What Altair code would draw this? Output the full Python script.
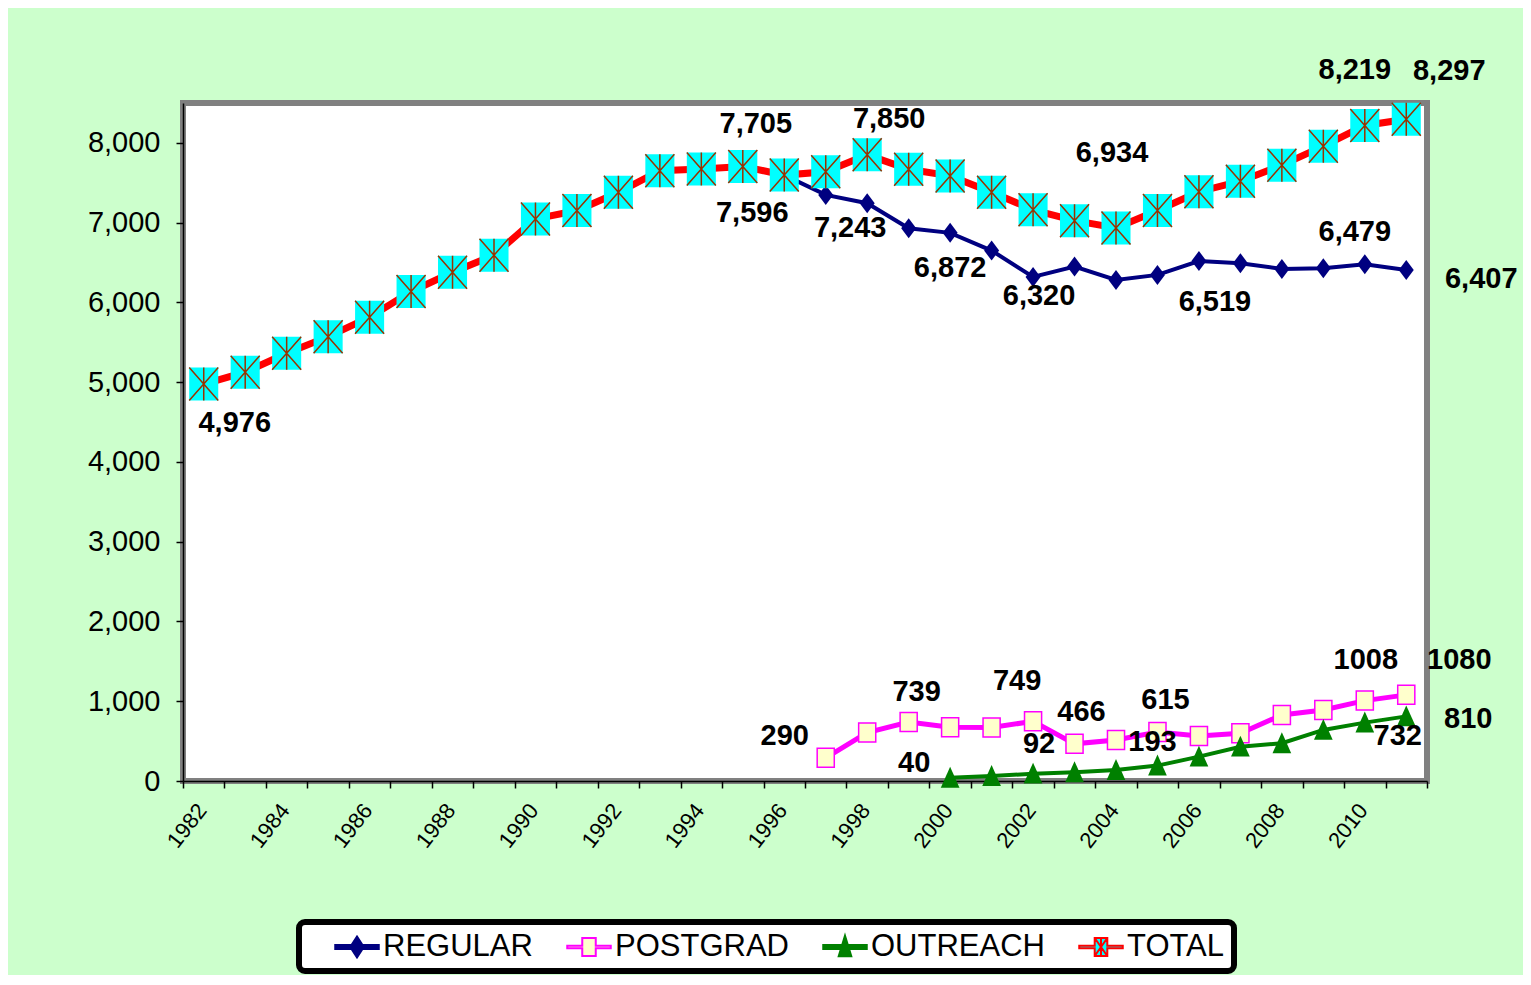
import altair as alt
import pandas as pd

# ---------------- data ----------------
series_names = ["REGULAR", "POSTGRAD", "OUTREACH", "TOTAL"]
years = list(range(1982, 2012))
total = [4976, 5125, 5363, 5571, 5814, 6136, 6378, 6592, 7047, 7152,
         7380, 7652, 7674, 7705, 7596, 7638, 7850, 7669, 7586, 7382,
         7161, 7025, 6934, 7153, 7388, 7520, 7721, 7959, 8219, 8297]
regular_years = list(range(1996, 2012))
regular = [7596, 7348, 7243, 6930, 6872, 6650, 6320, 6449, 6282, 6345,
           6519, 6492, 6420, 6429, 6479, 6407]
postgrad_years = list(range(1997, 2012))
postgrad = [290, 607, 739, 674, 670, 749, 466, 514, 615, 564,
            598, 828, 890, 1008, 1080]
outreach_years = list(range(2000, 2012))
outreach = [40, 62, 92, 110, 138, 193, 305, 430, 473, 640, 732, 810]
y_ticks = [0, 1000, 2000, 3000, 4000, 5000, 6000, 7000, 8000]

rows = []
for s, ys, vs in [("REGULAR", regular_years, regular),
                  ("POSTGRAD", postgrad_years, postgrad),
                  ("OUTREACH", outreach_years, outreach),
                  ("TOTAL", years, total)]:
    for yr, v in zip(ys, vs):
        lab = f"{v:,}" if s in ("TOTAL", "REGULAR") else str(v)
        rows.append({"year": yr, "series": s, "value": v, "label": lab})
df = pd.DataFrame(rows)

# ---------------- styles ----------------
FONT = "Liberation Sans"

# which points carry a data label, and the label's pixel offset
label_offsets = {
    ("TOTAL", 1982): (31, 39),
    ("TOTAL", 1995): (13, -42),
    ("TOTAL", 1996): (-32, 38),
    ("TOTAL", 1998): (22, -36),
    ("REGULAR", 1998): (-17, 25),
    ("REGULAR", 2000): (0, 35),
    ("REGULAR", 2002): (6, 19),
    ("TOTAL", 2004): (-4, -75),
    ("REGULAR", 2006): (16, 41),
    ("REGULAR", 2010): (-10, -32),
    ("TOTAL", 2010): (-10, -55),
    ("TOTAL", 2011): (43, -48),
    ("REGULAR", 2011): (75, 9),
    ("POSTGRAD", 1997): (-41, -22),
    ("POSTGRAD", 1999): (8, -30),
    ("POSTGRAD", 2002): (-16, -40),
    ("POSTGRAD", 2003): (7, -32),
    ("POSTGRAD", 2005): (8, -32),
    ("POSTGRAD", 2010): (1, -41),
    ("POSTGRAD", 2011): (53, -35),
    ("OUTREACH", 2000): (-36, -15),
    ("OUTREACH", 2002): (6, -30),
    ("OUTREACH", 2005): (-5, -24),
    ("OUTREACH", 2010): (33, 13),
    ("OUTREACH", 2011): (62, 3),
}

X = alt.X(
    "year:O",
    scale=alt.Scale(type="band", domain=years, paddingInner=0, paddingOuter=0),
    axis=alt.Axis(
        title=None, tickBand="extent",
        labelExpr="datum.value % 2 == 0 ? datum.label : ''",
        labelAngle=-52, labelAlign="right", labelBaseline="middle",
        labelOffset=-2, labelPadding=18, labelFont=FONT, labelFontSize=22,
        labelColor="black", labelOverlap=False,
        tickSize=7, tickColor="black", tickWidth=1.5,
        domainColor="black", domainWidth=1.5, grid=False,
    ),
)
Y = alt.Y(
    "value:Q",
    scale=alt.Scale(domain=[0, 8500], nice=False, zero=True),
    axis=alt.Axis(
        title=None, values=y_ticks, format=",d", labelFont=FONT,
        labelFontSize=29, labelColor="black", labelPadding=16,
        tickSize=7, tickColor="black", tickWidth=1.5,
        domainColor="black", domainWidth=1.5, grid=False,
    ),
)

base = alt.Chart(df)


def sel(s):
    return base.transform_filter(alt.datum.series == s)


layers = []

# REGULAR
layers.append(sel("REGULAR").mark_line(color="#000080", strokeWidth=4).encode(x=X, y=Y))
layers.append(sel("REGULAR").mark_point(
    shape="M0,-1L0.75,0L0,1L-0.75,0Z", filled=True, color="#000080",
    size=400, opacity=1).encode(x=X, y=Y))

# POSTGRAD
layers.append(sel("POSTGRAD").mark_line(color="#FF00FF", strokeWidth=5).encode(x=X, y=Y))
layers.append(sel("POSTGRAD").mark_point(
    shape="M-0.9,-1H0.9V1H-0.9Z", filled=True, fill="#FFFFCC",
    stroke="#FF00FF", strokeWidth=1.5, size=361, opacity=1).encode(x=X, y=Y))

# OUTREACH
layers.append(sel("OUTREACH").mark_line(color="#008000", strokeWidth=4).encode(x=X, y=Y))
layers.append(sel("OUTREACH").mark_point(
    shape="M0,-1L0.85,0.9L-0.85,0.9Z", filled=True, color="#008000",
    size=484, opacity=1).encode(x=X, y=Y))

# TOTAL
layers.append(sel("TOTAL").mark_line(color="#FF0000", strokeWidth=7).encode(x=X, y=Y))
layers.append(sel("TOTAL").mark_point(
    shape="M-0.88,-1H0.88V1H-0.88Z", filled=True, color="#00FFFF",
    size=1089, opacity=1).encode(x=X, y=Y))
layers.append(sel("TOTAL").mark_point(
    shape="M-0.88,-1L0.88,1M0.88,-1L-0.88,1M0,-1V1", filled=False,
    color="#993300", strokeWidth=1.5, size=1089, opacity=1).encode(x=X, y=Y))

# data labels
for (s, yr), (dx, dy) in label_offsets.items():
    layers.append(
        base.transform_filter(f"datum.series == '{s}' && datum.year == {yr}")
        .mark_text(dx=dx, dy=dy, font=FONT, fontSize=29, fontWeight="bold",
                   color="black", align="center", baseline="middle")
        .encode(x=X, y=Y, text="label:N")
    )

# legend (symbols = line segment + marker)
legend_shapes = [
    "M-1.45,-0.13H1.45V0.13H-1.45Z M0,-0.7L0.45,0L0,0.7L-0.45,0Z",
    "M-1.45,-0.08H-0.45V-0.6H0.45V-0.08H1.45V0.08H0.45V0.6H-0.45V0.08H-1.45Z",
    "M-1.45,-0.13H1.45V0.13H-1.45Z M0,-0.75L0.42,0.62H-0.42Z",
    "M-1.45,-0.08H-0.42V-0.6H0.42V-0.08H1.45V0.08H0.42V0.6H-0.42V0.08H-1.45Z "
    "M-0.42,-0.6L0.42,0.6M0.42,-0.6L-0.42,0.6M0,-0.6V0.6",
]
legend_fills = ["#000080", "#FFFFCC", "#008000", "#00FFFF"]
legend_strokes = ["#000080", "#FF00FF", "#008000", "#FF0000"]

leg = alt.Legend(
    title=None, orient="none", legendX=116, legendY=819,
    direction="horizontal", columns=4,
    labelFont=FONT, labelFontSize=31, labelColor="black",
    labelLimit=400, labelOffset=10, symbolOffset=33, columnPadding=7,
    labelExpr="datum.label == 'TOTAL' ? 'TOTAL\u00a0\u00a0' : datum.label",
    symbolSize=900, symbolStrokeWidth=2, padding=9,
    fillColor="white", strokeColor="black", cornerRadius=6,
)
layers.append(
    base.transform_filter("false")
    .mark_point(filled=True, opacity=1)
    .encode(
        x=X, y=Y,
        fill=alt.Fill("series:N", scale=alt.Scale(domain=series_names, range=legend_fills), legend=leg),
        stroke=alt.Stroke("series:N", scale=alt.Scale(domain=series_names, range=legend_strokes), legend=leg),
        shape=alt.Shape("series:N", scale=alt.Scale(domain=series_names, range=legend_shapes), legend=leg),
    )
)

chart = (
    alt.layer(*layers)
    .properties(
        width=1244, height=678,
        autosize=alt.AutoSizeParams(type="none"),
        padding={"left": 175, "top": 95, "right": 96, "bottom": 194},
        background="#CCFFCC",
    )
    .configure_view(fill="white", stroke="#808080", strokeWidth=6)
    .configure_legend(strokeWidth=6)
)

chart.save("out.html", embed_options={"renderer": "svg", "actions": False})
